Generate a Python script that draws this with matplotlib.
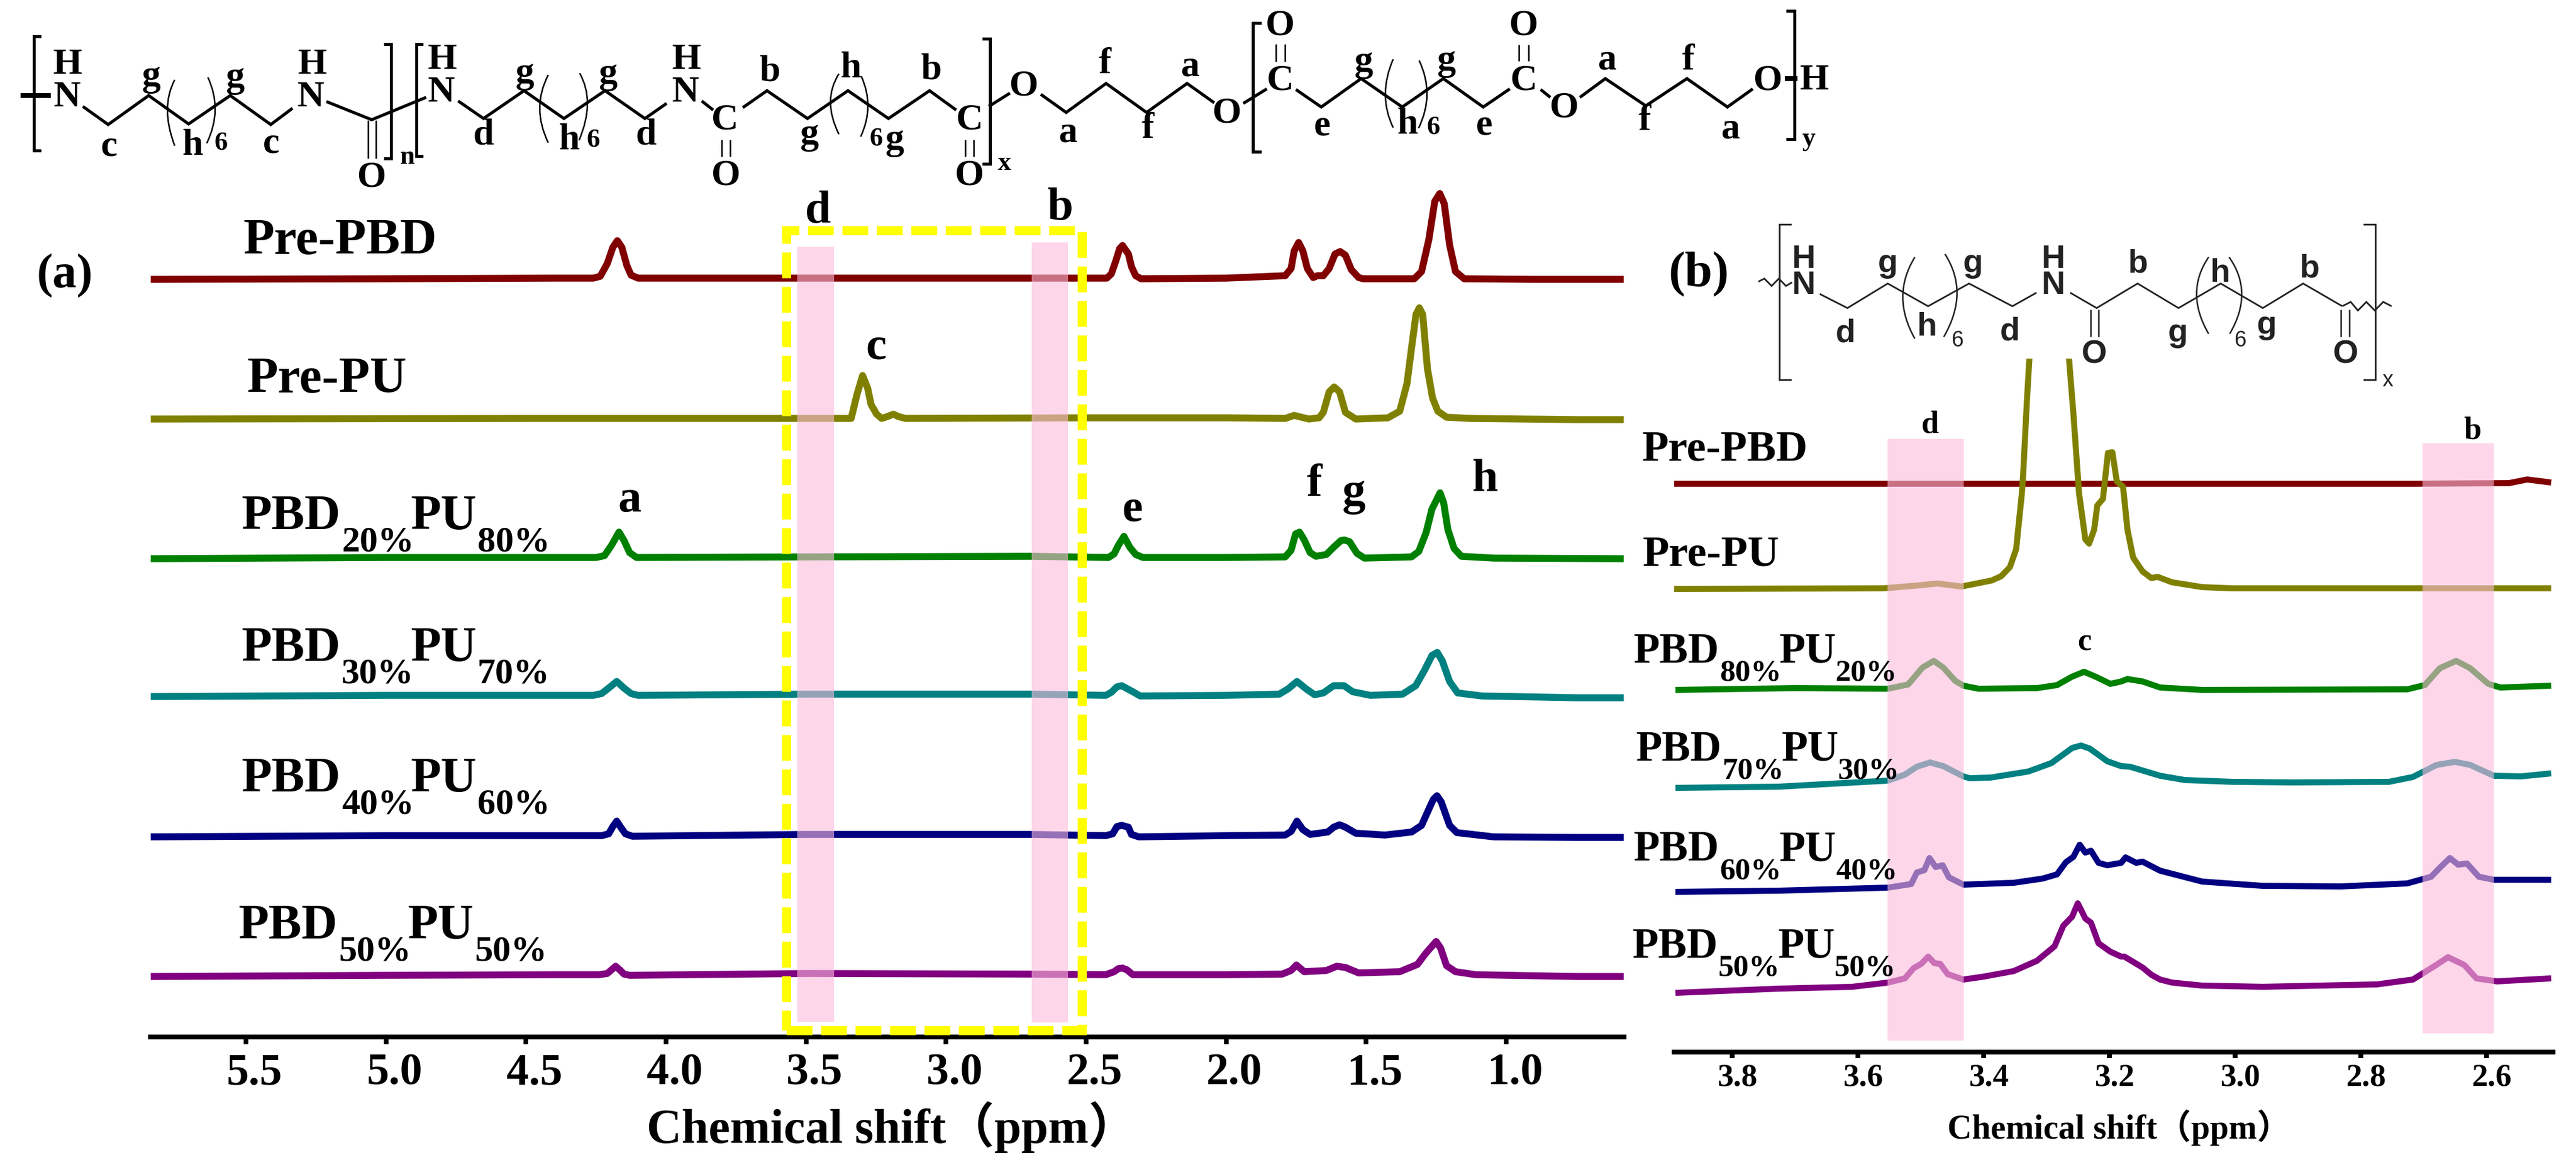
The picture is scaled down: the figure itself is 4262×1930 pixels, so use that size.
# nmr_panels.py

import matplotlib
matplotlib.use("Agg")
import matplotlib.pyplot as plt
from matplotlib.patches import PathPatch, Rectangle
from matplotlib.path import Path
from matplotlib.transforms import ScaledTranslation

W, H, DPI = 4262, 1931, 100
SERIF = ["Liberation Serif", "Noto Sans CJK SC"]
SANS = ["Liberation Sans", "DejaVu Sans"]
COLORS = ["#800000", "#808000", "#008000", "#008080", "#000080", "#800080"]

# ---- panel (a): 1H NMR, ppm and height above each baseline
a_ppm_prepbd = [5.84, 5.0, 4.4, 4.26, 4.235, 4.21, 4.19, 4.174, 4.158, 4.14, 4.125, 4.1, 3.5, 2.7, 2.426, 2.41, 2.395, 2.38, 2.37, 2.349, 2.338, 2.323, 2.304, 2.0, 1.789, 1.768, 1.757, 1.741, 1.726, 1.71, 1.689, 1.674, 1.653, 1.632, 1.611, 1.593, 1.574, 1.553, 1.527, 1.511, 1.328, 1.302, 1.276, 1.255, 1.237, 1.221, 1.202, 1.181, 1.15, 0.9, 0.58]
a_int_prepbd = [-1, 0, 1, 1, 4, 25, 52, 63, 52, 22, 6, 1, 1, 1, 1, 8, 28, 50, 55, 41, 20, 5, 0, 1, 5, 17, 46, 60, 46, 17, 2, 5, 5, 17, 41, 45, 39, 15, 2, 0, 0, 12, 65, 128, 141, 124, 56, 12, 0, -1, -1]
a_ppm_prepu = [5.84, 4.5, 3.6, 3.339, 3.33, 3.318, 3.298, 3.28, 3.268, 3.248, 3.23, 3.21, 3.188, 3.17, 3.145, 2.5, 2.0, 1.789, 1.757, 1.705, 1.668, 1.653, 1.632, 1.614, 1.595, 1.574, 1.537, 1.422, 1.38, 1.354, 1.338, 1.322, 1.31, 1.298, 1.281, 1.263, 1.244, 1.213, 1.129, 0.744, 0.58]
a_int_prepu = [-1, 0, 0, 0, 17, 40, 71, 50, 23, 7, 0, 3, 7, 3, 0, 1, 1, 0, 5, -1, 1, 10, 44, 52, 44, 10, -1, 1, 12, 58, 116, 172, 183, 172, 82, 34, 12, 2, 0, -2, -2]
a_ppm_20 = [5.84, 5.0, 4.4, 4.25, 4.22, 4.195, 4.168, 4.15, 4.13, 4.105, 3.5, 2.7, 2.42, 2.4, 2.385, 2.365, 2.344, 2.323, 2.297, 2.0, 1.789, 1.768, 1.752, 1.738, 1.721, 1.7, 1.679, 1.642, 1.616, 1.59, 1.578, 1.559, 1.533, 1.506, 1.338, 1.312, 1.286, 1.265, 1.236, 1.223, 1.208, 1.186, 1.16, 1.045, 0.58]
a_int_20 = [-2, 0, 0, 0, 3, 20, 42, 28, 8, 0, 1, 2, 0, 6, 20, 35, 17, 5, 0, 0, 1, 12, 39, 42, 29, 8, 2, 5, 17, 28, 29, 26, 7, -1, 1, 10, 41, 80, 107, 90, 46, 15, 2, -1, -2]
a_ppm_30 = [5.84, 5.0, 4.4, 4.26, 4.23, 4.205, 4.176, 4.15, 4.125, 4.1, 3.5, 2.7, 2.43, 2.41, 2.39, 2.373, 2.333, 2.307, 2.0, 1.81, 1.778, 1.747, 1.715, 1.684, 1.653, 1.616, 1.579, 1.548, 1.485, 1.37, 1.323, 1.291, 1.265, 1.246, 1.228, 1.202, 1.173, 1.087, 0.744, 0.58]
a_int_30 = [-2, 0, 0, 0, 3, 12, 23, 12, 3, 0, 2, 2, 0, 5, 14, 16, 6, -1, 0, 2, 11, 23, 11, 1, 4, 16, 16, 6, 0, 2, 16, 42, 66, 71, 57, 23, 4, -1, -4, -4]
a_ppm_40 = [5.84, 5.0, 4.4, 4.23, 4.205, 4.19, 4.176, 4.162, 4.145, 4.12, 3.5, 2.7, 2.43, 2.405, 2.39, 2.373, 2.349, 2.338, 2.312, 2.0, 1.789, 1.768, 1.747, 1.726, 1.7, 1.637, 1.616, 1.595, 1.574, 1.537, 1.433, 1.338, 1.302, 1.276, 1.26, 1.247, 1.232, 1.202, 1.176, 1.045, 0.744, 0.58]
a_int_40 = [-2, 0, 0, 0, 3, 15, 24, 14, 3, -1, 2, 2, 0, 3, 15, 17, 14, 2, -2, 0, 1, 7, 24, 10, 2, 6, 14, 18, 14, 4, 1, 6, 17, 44, 60, 66, 56, 17, 5, -2, -3, -3]
a_ppm_50 = [5.84, 5.0, 4.4, 4.24, 4.21, 4.195, 4.18, 4.165, 4.15, 4.13, 3.5, 2.7, 2.43, 2.4, 2.385, 2.37, 2.354, 2.333, 2.0, 1.8, 1.768, 1.749, 1.721, 1.642, 1.605, 1.574, 1.527, 1.38, 1.317, 1.286, 1.25, 1.234, 1.213, 1.181, 1.108, 0.744, 0.58]
a_int_50 = [-3, -1, 0, 0, 2, 8, 14, 8, 1, -1, 2, 1, 0, 5, 10, 11, 8, 0, 0, 1, 7, 16, 5, 7, 14, 12, 3, 5, 17, 36, 55, 44, 15, 5, 0, -3, -3]

# ---- panel (b): enlarged 3.9-2.5 ppm region
b_ppm_prepbd = [3.894, 3.5, 3.2, 2.9, 2.717, 2.564, 2.535, 2.497]
b_int_prepbd = [0, 0, 0, 0, 0, 1, 7, 2]
b_ppm_prepu = [3.894, 3.559, 3.502, 3.473, 3.435, 3.387, 3.372, 3.358, 3.348, 3.344, 3.339, 3.337, 3.331, 3.327, 3.296, 3.264, 3.257, 3.248, 3.238, 3.232, 3.224, 3.219, 3.21, 3.202, 3.195, 3.188, 3.178, 3.171, 3.162, 3.147, 3.133, 3.123, 3.1, 3.052, 3.004, 2.497]
b_int_prepu = [0, 1, 6, 9, 4, 14, 21, 36, 66, 107, 158, 188, 310, 381, 1200, 381, 290, 158, 82, 75, 98, 138, 149, 225, 226, 178, 169, 98, 52, 29, 18, 20, 11, 3, 1, 1]
b_ppm_80 = [3.89, 3.7, 3.552, 3.52, 3.497, 3.479, 3.464, 3.445, 3.432, 3.408, 3.315, 3.283, 3.259, 3.24, 3.222, 3.198, 3.181, 3.171, 3.147, 3.119, 3.052, 2.726, 2.698, 2.674, 2.648, 2.626, 2.597, 2.578, 2.497]
b_int_80 = [-2, 1, 0, 7, 35, 46, 35, 13, 5, 0, 1, 6, 20, 28, 20, 8, 12, 16, 12, 2, -2, -1, 6, 34, 46, 34, 8, 2, 5]
b_ppm_70 = [3.89, 3.725, 3.552, 3.525, 3.506, 3.485, 3.464, 3.432, 3.422, 3.389, 3.329, 3.292, 3.259, 3.245, 3.231, 3.203, 3.181, 3.167, 3.119, 3.08, 3.004, 2.908, 2.755, 2.717, 2.679, 2.65, 2.626, 2.588, 2.545, 2.497]
b_int_70 = [-2, 0, 10, 20, 33, 40, 34, 17, 14, 15, 25, 39, 64, 68, 63, 42, 34, 33, 18, 11, 8, 7, 8, 16, 36, 41, 36, 18, 17, 22]
b_ppm_60 = [3.89, 3.725, 3.552, 3.515, 3.506, 3.494, 3.486, 3.476, 3.465, 3.455, 3.432, 3.352, 3.306, 3.283, 3.269, 3.257, 3.247, 3.238, 3.229, 3.217, 3.203, 3.181, 3.174, 3.157, 3.147, 3.119, 3.052, 2.956, 2.832, 2.726, 2.688, 2.674, 2.658, 2.645, 2.631, 2.612, 2.588, 2.535, 2.497]
b_int_60 = [-2, 0, 5, 11, 30, 34, 54, 39, 42, 22, 10, 13, 20, 27, 47, 56, 76, 63, 66, 46, 42, 46, 55, 46, 48, 33, 15, 8, 7, 12, 23, 38, 54, 43, 45, 23, 18, 18, 18]
b_ppm_50 = [3.89, 3.725, 3.609, 3.552, 3.525, 3.511, 3.499, 3.488, 3.478, 3.469, 3.457, 3.432, 3.399, 3.352, 3.315, 3.287, 3.273, 3.259, 3.25, 3.238, 3.229, 3.217, 3.198, 3.181, 3.176, 3.147, 3.133, 3.119, 3.1, 3.052, 2.956, 2.774, 2.717, 2.683, 2.661, 2.635, 2.616, 2.583, 2.497]
b_int_50 = [-2, 5, 8, 15, 22, 39, 46, 58, 47, 46, 29, 20, 25, 34, 51, 75, 109, 124, 146, 121, 114, 80, 66, 58, 58, 40, 28, 20, 15, 10, 8, 12, 20, 42, 57, 44, 22, 17, 22]

a_series = [(a_ppm_prepbd, a_int_prepbd), (a_ppm_prepu, a_int_prepu), (a_ppm_20, a_int_20),
            (a_ppm_30, a_int_30), (a_ppm_40, a_int_40), (a_ppm_50, a_int_50)]
b_series = [(b_ppm_prepbd, b_int_prepbd), (b_ppm_prepu, b_int_prepu), (b_ppm_80, b_int_80),
            (b_ppm_70, b_int_70), (b_ppm_60, b_int_60), (b_ppm_50, b_int_50)]

a_ticks = [5.5, 5.0, 4.5, 4.0, 3.5, 3.0, 2.5, 2.0, 1.5, 1.0]
b_ticks = [3.8, 3.6, 3.4, 3.2, 3.0, 2.8, 2.6]
xlabel = "Chemical shift（ppm）"


def px(v):
    return v * 72 / DPI


def make_axes(fig, left, right, top, bottom, xlim):
    ax = fig.add_axes([left / W, 1 - bottom / H, (right - left) / W, (bottom - top) / H])
    ax.set_xlim(*xlim)
    ax.set_ylim(0, bottom - top)
    for name in ["left", "right", "top"]:
        ax.spines[name].set_visible(False)
    ax.set_yticks([])
    ax.patch.set_visible(False)
    return ax


def draw_panel(fig, ax, series, baselines, lw, ticks, fontsize, label_dx, tick_w, tick_l, pad):
    for (ppm, val), base, color in zip(series, baselines, COLORS):
        y = [base + v for v in val]
        ax.plot(ppm, y, color=color, lw=px(lw), solid_joinstyle="round", solid_capstyle="butt", zorder=2)
    ax.spines["bottom"].set_linewidth(px(8))
    ax.set_xticks(ticks)
    ax.set_xticklabels([f"{t:.1f}" for t in ticks], family=SERIF, weight="bold", fontsize=px(fontsize))
    ax.tick_params(axis="x", width=px(tick_w), length=px(tick_l), pad=px(pad))
    shift = ScaledTranslation(label_dx / DPI, 0, fig.dpi_scale_trans)
    for lab in ax.get_xticklabels():
        lab.set_transform(lab.get_transform() + shift)


def band(ax, x0, x1, y0, y1):
    ax.add_patch(Rectangle((x0, y0), x1 - x0, y1 - y0, facecolor="#FCBCDC", alpha=0.6, lw=0, zorder=3))


def txt(ov, x, y, s, em, family=SERIF, weight="bold", ha="center", va="center", color="black"):
    ov.text(x, y, s, fontsize=px(em), family=family, weight=weight, ha=ha, va=va, color=color)


def blend_label(ov, x, y, first, second, offs, em, sub_em, drop):
    txt(ov, x, y, "PBD", em, ha="left", va="baseline")
    txt(ov, x + offs[0], y + drop, first, sub_em, ha="left", va="baseline")
    txt(ov, x + offs[1], y, "PU", em, ha="left", va="baseline")
    txt(ov, x + offs[2], y + drop, second, sub_em, ha="left", va="baseline")


def bonds(ov, pts, lw=5, color="black"):
    ov.plot([p[0] for p in pts], [p[1] for p in pts], color=color, lw=px(lw),
            solid_capstyle="butt", solid_joinstyle="miter")


def paren(ov, p0, mid, p2, lw=2.5, color="black"):
    ctrl = (2 * mid[0] - (p0[0] + p2[0]) / 2, 2 * mid[1] - (p0[1] + p2[1]) / 2)
    path = Path([p0, ctrl, p2], [Path.MOVETO, Path.CURVE3, Path.CURVE3])
    ov.add_patch(PathPatch(path, fill=False, lw=px(lw), edgecolor=color))


def top_structure(ov):
    chains = [
        [(137, 177), (179, 207), (246, 159), (312, 206), (381, 159), (448, 207), (484, 180)],
        [(540, 169), (615, 199), (705, 162)],
        [(758, 168), (800, 197), (867, 151), (933, 197), (1001, 151), (1067, 197), (1103, 172)],
        [(1161, 168), (1180, 183)],
        [(1229, 179), (1269, 151), (1336, 197), (1403, 151), (1470, 197), (1538, 151), (1582, 183)],
        [(1636, 177), (1671, 155)],
        [(1722, 157), (1764, 187), (1830, 139), (1897, 187), (1964, 139), (2009, 171)],
        [(2057, 172), (2096, 148)],
        [(2144, 149), (2186, 178), (2252, 131), (2320, 178), (2388, 131), (2454, 178), (2498, 148)],
        [(2549, 149), (2565, 162)],
        [(2614, 162), (2656, 131), (2723, 176), (2791, 131), (2858, 178), (2900, 148)],
    ]
    for c in chains:
        bonds(ov, c)
    for x0, x1, y0, y1 in [(609, 622, 200, 263), (1194, 1208, 232, 260), (1597, 1611, 232, 260),
                           (2111, 2126, 74, 103), (2513, 2529, 75, 102)]:
        bonds(ov, [(x0, y0), (x0, y1)], lw=2.5)
        bonds(ov, [(x1, y0), (x1, y1)], lw=2.5)
    bonds(ov, [(34, 159), (84, 159)], lw=8)
    bonds(ov, [(2953, 131), (2974, 131)], lw=8)
    for x_out, x_in, y0, y1 in [(56, 68, 61, 250), (647, 635, 74, 263), (689, 700, 74, 259),
                                (1638, 1625, 65, 272), (2073, 2087, 39, 252), (2969, 2955, 19, 231)]:
        bonds(ov, [(x_in, y0), (x_out, y0), (x_out, y1), (x_in, y1)], lw=5)
    for a, m, b in [((289, 133), (277, 183), (289, 242)), ((344, 129), (356, 183), (342, 238)),
                    ((907, 125), (893, 180), (907, 237)), ((959, 122), (972, 173), (958, 233)),
                    ((1388, 123), (1374, 170), (1388, 223)), ((1425, 127), (1436, 177), (1424, 227)),
                    ((2305, 99), (2292, 157), (2305, 212)), ((2348, 101), (2361, 157), (2347, 213))]:
        paren(ov, a, m, b)
    atoms = [
        ("H", 112, 107), ("N", 111, 161), ("g", 250, 127), ("g", 389, 129), ("H", 517, 107), ("N", 514, 161),
        ("c", 181, 242), ("h", 319, 241), ("c", 449, 237), ("O", 615, 293), ("H", 732, 99), ("N", 730, 153),
        ("g", 868, 122), ("g", 1006, 123), ("d", 800, 223), ("h", 942, 232), ("d", 1069, 223), ("H", 1136, 99),
        ("N", 1134, 153), ("C", 1199, 198), ("O", 1201, 290), ("b", 1273, 118), ("g", 1339, 223), ("h", 1408, 113),
        ("g", 1480, 232), ("b", 1540, 115), ("C", 1604, 198), ("O", 1604, 290), ("O", 1694, 142), ("f", 1828, 106),
        ("a", 1767, 219), ("f", 1899, 213), ("a", 1969, 110), ("O", 2030, 187), ("O", 2118, 42), ("C", 2118, 133),
        ("O", 2521, 42), ("C", 2521, 133), ("g", 2256, 103), ("g", 2393, 101), ("e", 2188, 208), ("h", 2329, 206),
        ("e", 2456, 207), ("O", 2588, 178), ("a", 2659, 99), ("f", 2793, 100), ("f", 2721, 200), ("a", 2864, 213),
        ("O", 2925, 133), ("H", 3002, 133),
    ]
    for s, x, y in atoms:
        txt(ov, x, y, s, 62)
    for s, x, y in [("6", 366, 237), ("n", 674, 260), ("6", 982, 232), ("6", 1449, 230),
                    ("x", 1662, 270), ("6", 2372, 211), ("y", 2993, 230)]:
        txt(ov, x, y, s, 44)


def b_structure(ov):
    def sb(x, y):
        return (2700 + x / 1.004, 340 + y / 0.9855)

    gray = "#222222"
    for c in [
        [(312, 145), (358, 168), (425, 128), (492, 165), (560, 128), (632, 165), (672, 143)],
        [(728, 143), (772, 168), (840, 128), (908, 168), (978, 128), (1048, 168), (1115, 128), (1180, 165)],
        [(210, 125), (220, 120), (232, 132), (244, 120), (256, 132), (266, 126)],
        [(1180, 165), (1194, 158), (1206, 172), (1220, 158), (1234, 172), (1248, 158), (1262, 165)],
    ]:
        bonds(ov, [sb(*p) for p in c], lw=2.8, color=gray)
    for x0, x1 in [(762, 775), (1178, 1192)]:
        bonds(ov, [sb(x0, 170), sb(x0, 215)], lw=2.5, color=gray)
        bonds(ov, [sb(x1, 170), sb(x1, 215)], lw=2.5, color=gray)
    bonds(ov, [sb(265, 32), sb(245, 32), sb(245, 285), sb(265, 285)], lw=2.8, color=gray)
    bonds(ov, [sb(1215, 32), sb(1235, 32), sb(1235, 285), sb(1215, 285)], lw=2.8, color=gray)
    for a, m, b in [((470, 85), (450, 150), (470, 218)), ((520, 80), (540, 145), (518, 215)),
                    ((958, 85), (938, 145), (958, 210)), ((992, 85), (1013, 145), (993, 210))]:
        paren(ov, sb(*a), sb(*m), sb(*b), lw=2.5, color=gray)
    atoms = [
        ("H", 285, 88), ("N", 285, 130), ("g", 425, 95), ("g", 567, 95), ("d", 355, 208), ("h", 490, 198),
        ("d", 628, 205), ("H", 700, 88), ("N", 700, 130), ("O", 768, 243), ("b", 840, 95), ("g", 907, 208),
        ("h", 977, 110), ("g", 1055, 195), ("b", 1125, 103), ("O", 1185, 243),
    ]
    for s, x, y in atoms:
        xx, yy = sb(x, y)
        txt(ov, xx, yy, s, 54, family=SANS, color=gray)
    for s, x, y in [("6", 540, 220), ("6", 1010, 220), ("x", 1256, 285)]:
        xx, yy = sb(x, y)
        txt(ov, xx, yy, s, 36, family=SANS, weight="normal", color=gray)


def main():
    fig = plt.figure(figsize=(W / DPI, H / DPI), dpi=DPI, facecolor="white")

    # panel (a)
    ax_a = make_axes(fig, 249, 2687, 300, 1716, (5.841, 0.579))
    draw_panel(fig, ax_a, a_series, [1254, 1023, 793, 565, 333, 103], 11.5, a_ticks, 74, 14, 7.6, 12, 14)
    band(ax_a, 3.532, 3.40, 25, 1307)
    band(ax_a, 2.694, 2.565, 24, 1314)
    ax_a.add_patch(Rectangle((3.571, 11), 2.515 - 3.571, 1334.5 - 11, fill=False, edgecolor="#FFFF00",
                             lw=px(15), linestyle=(0, (2.85, 0.95)), zorder=4, clip_on=False))

    # panel (b), axes top sits where the Pre-PU peak is cut off
    ax_b = make_axes(fig, 2770, 4224, 594, 1741, (3.892, 2.494))
    draw_panel(fig, ax_b, b_series, [940, 766, 601, 439, 267, 100], 10, b_ticks, 53, 9, 8, 10, 8)
    band(ax_b, 3.5525, 3.4315, 19, 1014)
    band(ax_b, 2.702, 2.588, 31, 1007)

    # overlay in image pixels for text and the drawn structures
    ov = fig.add_axes([0, 0, 1, 1])
    ov.set_xlim(0, W)
    ov.set_ylim(H, 0)
    ov.axis("off")

    top_structure(ov)
    b_structure(ov)

    txt(ov, 107, 456, "(a)", 80)
    txt(ov, 2810, 454, "(b)", 82)

    txt(ov, 403, 420, "Pre-PBD", 84, ha="left", va="baseline")
    txt(ov, 409, 649, "Pre-PU", 84, ha="left", va="baseline")
    offs_a = (165, 280, 390)
    blend_label(ov, 400, 875, "20%", "80%", offs_a, 82, 60, 37)
    blend_label(ov, 400, 1093, "30%", "70%", offs_a, 82, 60, 37)
    blend_label(ov, 400, 1309, "40%", "60%", offs_a, 82, 60, 37)
    blend_label(ov, 395, 1552, "50%", "50%", offs_a, 82, 60, 37)

    for s, x, y in [("d", 1353, 368), ("b", 1754, 363), ("c", 1449, 593), ("a", 1042, 846),
                    ("e", 1873, 862), ("f", 2174, 820), ("g", 2240, 835), ("h", 2456, 812)]:
        txt(ov, x, y, s, 77, va="baseline")

    txt(ov, 2717, 761, "Pre-PBD", 72, ha="left", va="baseline")
    txt(ov, 2718, 935, "Pre-PU", 72, ha="left", va="baseline")
    offs_b = (142, 241, 334)
    blend_label(ov, 2703, 1096, "80%", "20%", offs_b, 71, 51, 30)
    blend_label(ov, 2707, 1258, "70%", "30%", offs_b, 71, 51, 30)
    blend_label(ov, 2703, 1423, "60%", "40%", offs_b, 71, 51, 30)
    blend_label(ov, 2701, 1584, "50%", "50%", offs_b, 71, 51, 30)

    for s, x, y in [("d", 3193, 715), ("b", 4091, 725), ("c", 3449, 1076)]:
        txt(ov, x, y, s, 52, va="baseline")

    txt(ov, 1475, 1864, xlabel, 80)
    txt(ov, 3506, 1865, xlabel, 56)

    fig.savefig("out.png", dpi=DPI, facecolor="white")
    plt.close(fig)


if __name__ == "__main__":
    main()
